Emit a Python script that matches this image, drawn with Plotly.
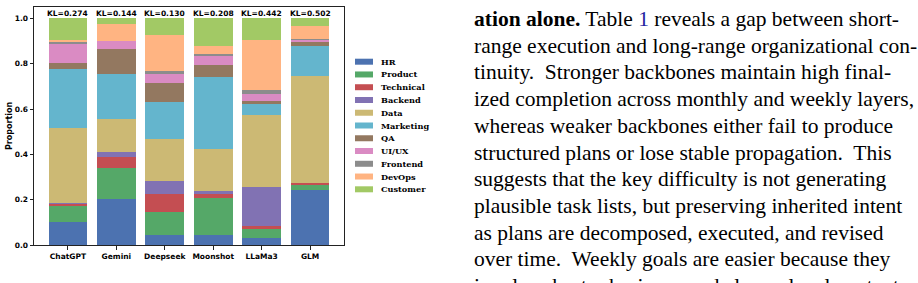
import plotly.graph_objects as go

models = ["ChatGPT", "Gemini", "Deepseek", "Moonshot", "LLaMa3", "GLM"]
kl_values = ["0.274", "0.144", "0.130", "0.208", "0.442", "0.502"]
roles = ["HR", "Product", "Technical", "Backend", "Data", "Marketing",
         "QA", "UI/UX", "Frontend", "DevOps", "Customer"]
colors = ["#4C72B0", "#55A868", "#C44E52", "#8172B3", "#CCB974", "#64B5CD",
          "#937860", "#DA8BC3", "#8C8C8C", "#FFB482", "#A2C965"]

# proportion of each role per model (order of models)
hr = [0.100, 0.202, 0.043, 0.043, 0.031, 0.243]
product = [0.072, 0.137, 0.101, 0.165, 0.040, 0.021]
technical = [0.011, 0.048, 0.080, 0.017, 0.013, 0.009]
backend = [0.003, 0.022, 0.057, 0.012, 0.171, 0.000]
data = [0.331, 0.148, 0.186, 0.186, 0.318, 0.474]
marketing = [0.259, 0.198, 0.165, 0.318, 0.050, 0.132]
qa = [0.027, 0.109, 0.082, 0.053, 0.012, 0.018]
uiux = [0.085, 0.036, 0.041, 0.041, 0.032, 0.010]
frontend = [0.009, 0.000, 0.012, 0.009, 0.018, 0.003]
devops = [0.009, 0.076, 0.159, 0.035, 0.221, 0.057]
customer = [0.094, 0.024, 0.074, 0.121, 0.094, 0.033]
series = [hr, product, technical, backend, data, marketing, qa, uiux,
          frontend, devops, customer]

text_lines = [
    "<b>ation alone.</b> Table <span style='color:#2424a0'>1</span> reveals a gap between short-",
    "range execution and long-range organizational con-",
    "tinuity.  Stronger backbones maintain high final-",
    "ized completion across monthly and weekly layers,",
    "whereas weaker backbones either fail to produce",
    "structured plans or lose stable propagation.  This",
    "suggests that the key difficulty is not generating",
    "plausible task lists, but preserving inherited intent",
    "as plans are decomposed, executed, and revised",
    "over time.  Weekly goals are easier because they",
    "involve shorter horizons and clearer local context, while",
]

W, H = 918, 283
L, R, T, B = 34, 344, 7, 245


def px2x(px):
    return (px - L) / (R - L)


def px2y(py):
    return (B - py) / (B - T)


fig = go.Figure()
for name, vals, col in zip(roles, series, colors):
    fig.add_trace(go.Bar(x=models, y=vals, name=name, width=0.8,
                         marker=dict(color=col, line=dict(width=0)),
                         showlegend=False))

annotations = []
for m, kl in zip(models, kl_values):
    annotations.append(dict(x=m, y=1.0, xref="x", yref="y", text="KL=" + kl,
                            showarrow=False, yanchor="bottom", yshift=-2,
                            font=dict(family="DejaVu Sans", size=7.5,
                                      color="black", weight="bold")))

# manual legend
shapes = []
for i, (name, col) in enumerate(zip(roles, colors)):
    cy = 61.7 + 12.76 * i
    shapes.append(dict(type="rect", xref="paper", yref="paper",
                       x0=px2x(355), x1=px2x(373),
                       y0=px2y(cy + 3), y1=px2y(cy - 3),
                       fillcolor=col, line=dict(width=0)))
    annotations.append(dict(x=px2x(379), y=px2y(cy), xref="paper", yref="paper",
                            text=name, showarrow=False, xanchor="left",
                            yanchor="middle",
                            font=dict(family="DejaVu Serif", size=8.2,
                                      color="black", weight="bold")))

annotations.append(dict(x=px2x(9), y=px2y(126), xref="paper", yref="paper",
                        text="Proportion", showarrow=False, textangle=-90,
                        xanchor="center", yanchor="middle",
                        font=dict(family="DejaVu Sans", size=8,
                                  color="black", weight="bold")))

for i, line in enumerate(text_lines):
    cy = 20 + 26.7 * i
    annotations.append(dict(x=px2x(472), y=px2y(cy - 1), xref="paper",
                            yref="paper", text=line, showarrow=False,
                            xanchor="left", yanchor="middle",
                            font=dict(family="Liberation Serif", size=21.5,
                                      color="black")))

fig.update_layout(
    width=W, height=H, barmode="stack", bargap=0.2,
    margin=dict(l=L, r=W - R, t=T, b=H - B, pad=0),
    plot_bgcolor="white", paper_bgcolor="white",
    annotations=annotations, shapes=shapes,
    xaxis=dict(range=[-0.7, 5.7], showline=True, mirror=True,
               linecolor="#222", linewidth=1, ticks="outside", ticklen=3.5,
               tickcolor="#222", showgrid=False,
               tickfont=dict(family="DejaVu Sans", size=7.5, color="black",
                             weight="bold")),
    yaxis=dict(range=[0, 1.05], showline=True, mirror=True,
               linecolor="#222", linewidth=1, ticks="outside", ticklen=3.5,
               tickcolor="#222", showgrid=False, zeroline=False,
               tickvals=[0, 0.2, 0.4, 0.6, 0.8, 1.0],
               ticktext=["0.0", "0.2", "0.4", "0.6", "0.8", "1.0"],
               tickfont=dict(family="DejaVu Sans", size=7.5, color="black",
                             weight="bold")),
)

fig.write_html("out.html")
